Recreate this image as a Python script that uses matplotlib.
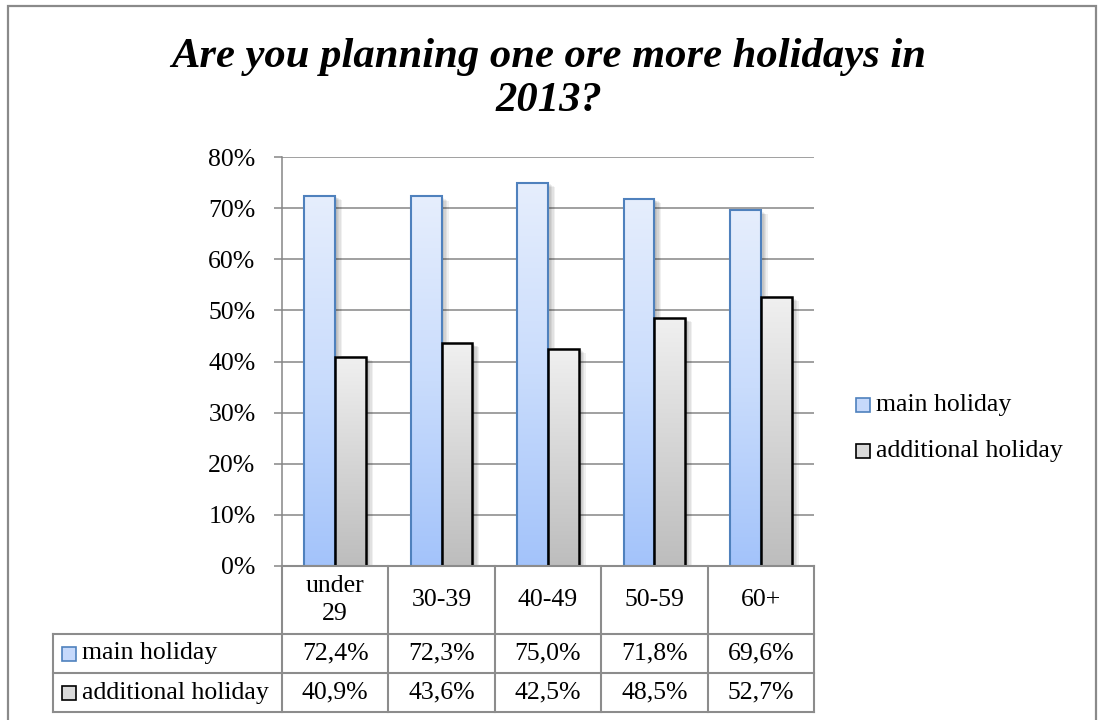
import numpy as np
import matplotlib
matplotlib.use("Agg")
import matplotlib.pyplot as plt
from matplotlib.colors import LinearSegmentedColormap
from matplotlib.patches import Rectangle
from matplotlib.lines import Line2D
import matplotlib.patheffects as pe

# ---- data ----
categories = ["under\n29", "30-39", "40-49", "50-59", "60+"]
series_names = ["main holiday", "additional holiday"]
main_holiday = [72.4, 72.3, 75.0, 71.8, 69.6]
additional_holiday = [40.9, 43.6, 42.5, 48.5, 52.7]
y_ticks = [0, 10, 20, 30, 40, 50, 60, 70, 80]
title = "Are you planning one ore more holidays in\n2013?"

plt.rcParams['font.family'] = ['Liberation Serif', 'DejaVu Serif']

W, H = 1098, 720
fig = plt.figure(figsize=(W / 100, H / 100), dpi=100)


def fx(px):
    return px / W


def fy(py):
    return 1 - py / H


GRID = '#868686'
TXT = 18.5

# outer chart frame
fig.patches.append(Rectangle((fx(8), fy(730)), fx(1096) - fx(8), fy(6) - fy(730),
                             transform=fig.transFigure, fill=False,
                             edgecolor='#8a8a8a', lw=1.6))

fig.text(0.5, fy(79), title, ha='center', va='center', fontsize=30.7,
         fontweight='bold', fontstyle='italic', linespacing=1.22)

# ---- plot area ----
ax = fig.add_axes([fx(282), fy(566), fx(814) - fx(282), fy(157) - fy(566)])
x = np.arange(len(categories))
w = 0.29

styles = [
    dict(vals=main_holiday, off=-w / 2, edge='#4f81bd', lw=1.5,
         cmap=LinearSegmentedColormap.from_list('m', ['#a3c3fa', '#c9dcfc', '#e6eefd'])),
    dict(vals=additional_holiday, off=w / 2, edge='#000000', lw=1.8,
         cmap=LinearSegmentedColormap.from_list('a', ['#bdbdbd', '#d6d6d6', '#f0f0f0'])),
]

grad = np.linspace(0, 1, 256).reshape(-1, 1)
shadow = [pe.SimplePatchShadow(offset=(o, -o * 0.6), shadow_rgbFace='k', alpha=0.06)
          for o in (1, 2, 3, 4, 5)] + [pe.Normal()]

for st in styles:
    bars = ax.bar(x + st['off'], st['vals'], w, color='white', edgecolor='none', zorder=2)
    for b in bars:
        b.set_path_effects(shadow)
        x0, bw, bh = b.get_x(), b.get_width(), b.get_height()
        ax.imshow(grad, extent=[x0, x0 + bw, 0, bh], origin='lower', aspect='auto',
                  cmap=st['cmap'], zorder=3, interpolation='bilinear')
        ax.add_patch(Rectangle((x0, 0), bw, bh, fill=False, edgecolor=st['edge'],
                               lw=st['lw'], zorder=4))

ax.set_xlim(-0.5, 4.5)
ax.set_ylim(0, 80)
ax.set_yticks(y_ticks)
ax.set_yticklabels([f"{v}%" for v in y_ticks])
ax.set_xticks([])
ax.yaxis.grid(True, color=GRID, lw=1.1)
ax.set_axisbelow(True)
for s in ('top', 'right', 'bottom'):
    ax.spines[s].set_visible(False)
ax.spines['left'].set_color(GRID)
ax.spines['left'].set_linewidth(1.1)
ax.tick_params(axis='y', length=6, width=1.1, color=GRID, pad=13, labelsize=TXT)

# ---- data table ----
col_w = (814 - 282) / 5
row_edges = [0, 68, 107, 146]
x_left = -0.5 - (282 - 53) / col_w
tab = fig.add_axes([fx(53), fy(712), fx(814) - fx(53), fy(566) - fy(712)])
tab.set_xlim(x_left, 4.5)
tab.set_ylim(146, 0)
tab.axis('off')
LC = '#8c8c8c'
tlw = 1.5
tab.plot([-0.5, 4.5], [row_edges[0]] * 2, color=LC, lw=tlw, clip_on=False)
for r in row_edges[1:]:
    tab.plot([x_left, 4.5], [r, r], color=LC, lw=tlw, clip_on=False)
for i in range(len(categories) + 1):
    tab.plot([-0.5 + i] * 2, [row_edges[0], row_edges[-1]], color=LC, lw=tlw, clip_on=False)
tab.plot([x_left] * 2, [row_edges[1], row_edges[-1]], color=LC, lw=tlw, clip_on=False)

for i, c in enumerate(categories):
    tab.text(i, (row_edges[0] + row_edges[1]) / 2, c, ha='center', va='center',
             fontsize=TXT, linespacing=1.4)

key_faces = ['#c6d9fb', '#d9d9d9']
for r, (name, vals, st, kf) in enumerate(zip(series_names, [main_holiday, additional_holiday],
                                             styles, key_faces)):
    yc = (row_edges[r + 1] + row_edges[r + 2]) / 2
    for i, v in enumerate(vals):
        tab.text(i, yc, f"{v:.1f}%".replace('.', ','), ha='center', va='center', fontsize=TXT)
    tab.plot([x_left + 16 / col_w], [yc], marker='s', ms=9.5, mfc=kf, mec=st['edge'],
             mew=1.2, clip_on=False)
    tab.text(x_left + 29 / col_w, yc, name, ha='left', va='center', fontsize=TXT)

# ---- legend ----
for (name, st, kf, yp) in zip(series_names, styles, key_faces, [405, 451]):
    fig.add_artist(Line2D([fx(863)], [fy(yp)], marker='s', ms=9.5, mfc=kf,
                          mec=st['edge'], mew=1.2, transform=fig.transFigure))
    fig.text(fx(876), fy(yp), name, ha='left', va='center', fontsize=TXT)

fig.savefig('out.png', dpi=100)
